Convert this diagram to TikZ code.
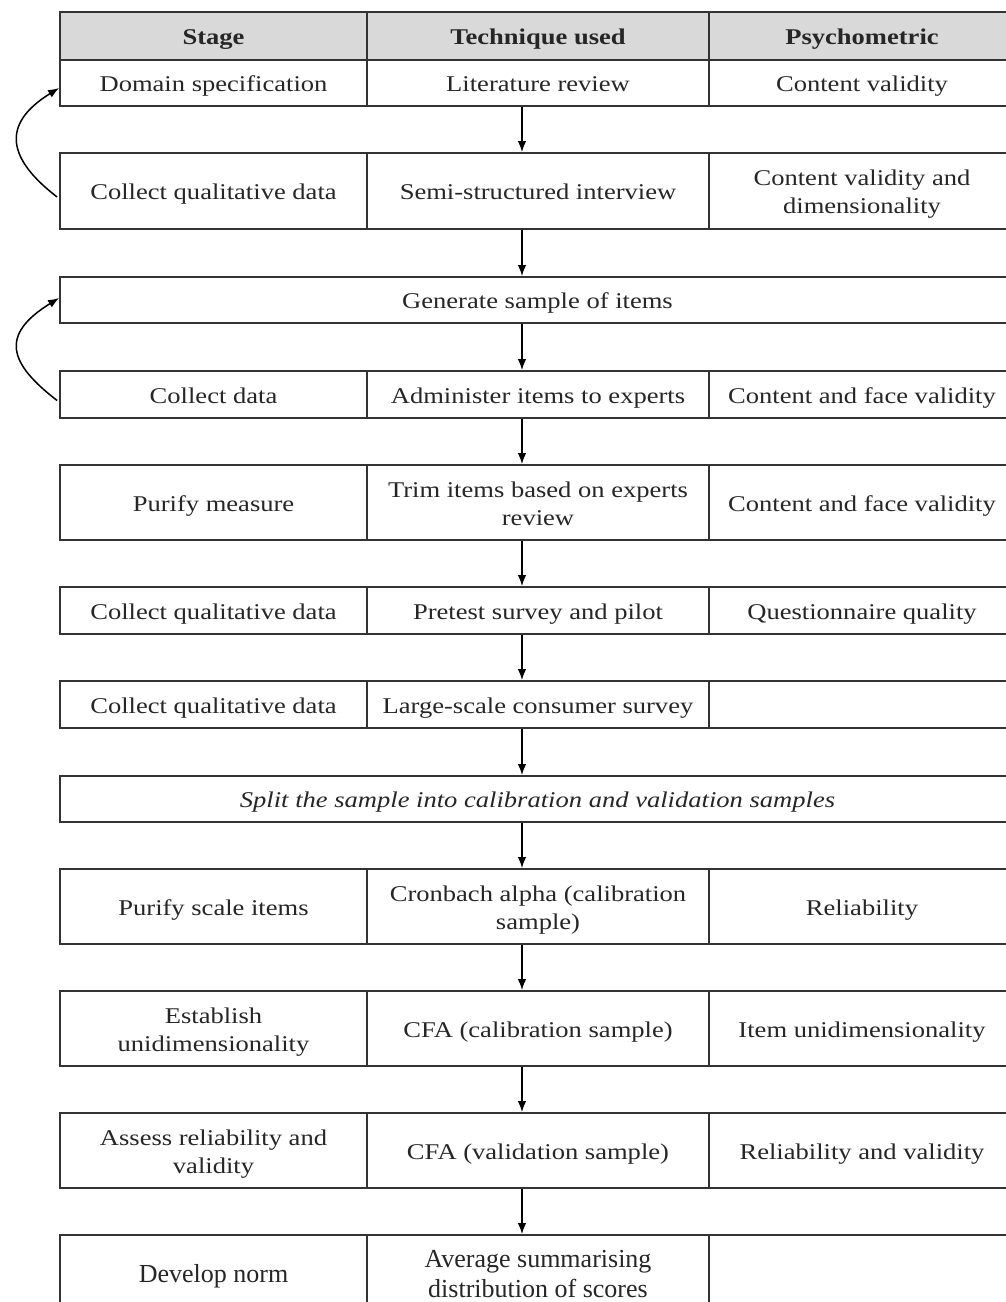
\documentclass[tikz,border=0pt]{standalone}
\usepackage{fontspec}
\setmainfont{Liberation Serif}[FakeStretch=1.18]
\newfontfamily\plainfont{Liberation Serif}
\usetikzlibrary{arrows.meta,calc}
\definecolor{lc}{HTML}{333333}
\definecolor{tc}{HTML}{262626}
\definecolor{hdr}{HTML}{D9D9D9}
\begin{document}
\begin{tikzpicture}[x=1pt,y=-1pt,
  cell/.style={draw=lc, line width=1.8pt, align=center, inner sep=0pt, text=tc,
    text height=17.5pt, text depth=0pt,
    font=\fontsize{22.5}{28}\selectfont},
  ml/.style={text height=45.5pt},
  ca/.style={cell, minimum width=307pt},
  cb/.style={cell, minimum width=342pt},
  cc/.style={cell, minimum width=306pt},
  cs/.style={cell, minimum width=955pt},
  hs/.style={minimum height=46pt},
  ht/.style={minimum height=75pt},
  hd/.style={fill=hdr, minimum height=48pt, font=\fontsize{22.5}{28}\selectfont\bfseries},
  arr/.style={draw=black, line width=1.5pt, -{Latex[length=11pt,width=8.5pt]}},
  lastrow/.style={text height=20pt, text depth=0pt, font=\fontsize{26}{30}\plainfont\selectfont},
  ml2/.style={text height=50pt}
]
\useasboundingbox (0,0) rectangle (1006,1302);
\fill[white] (0,0) rectangle (1006,1302);
\coordinate (ax) at (522,0);

% header
\node[ca,hd] (ha) at (213.5,36) {Stage};
\node[cb,hd] (hb) at (538,36) {Technique used};
\node[cc,hd] (hc) at (862,36) {Psychometric};

% row 1
\node[ca,hs] (r1a) at (213.5,83) {Domain specification};
\node[cb,hs] (r1b) at (538,83) {Literature review};
\node[cc,hs] (r1c) at (862,83) {Content validity};

% row 2
\node[ca,minimum height=76pt] (r2a) at (213.5,191) {Collect qualitative data};
\node[cb,minimum height=76pt] (r2b) at (538,191) {Semi-structured interview};
\node[cc,minimum height=76pt,ml] (r2c) at (862,191) {Content validity and\\dimensionality};

% row 3
\node[cs,hs] (r3) at (537.5,300) {Generate sample of items};

% row 4
\node[ca,minimum height=47pt] (r4a) at (213.5,394.5) {Collect data};
\node[cb,minimum height=47pt] (r4b) at (538,394.5) {Administer items to experts};
\node[cc,minimum height=47pt] (r4c) at (862,394.5) {Content and face validity};

% row 5
\node[ca,ht] (r5a) at (213.5,502.5) {Purify measure};
\node[cb,ht,ml] (r5b) at (538,502.5) {Trim items based on experts\\review};
\node[cc,ht] (r5c) at (862,502.5) {Content and face validity};

% row 6
\node[ca,minimum height=47pt] (r6a) at (213.5,610.5) {Collect qualitative data};
\node[cb,minimum height=47pt] (r6b) at (538,610.5) {Pretest survey and pilot};
\node[cc,minimum height=47pt] (r6c) at (862,610.5) {Questionnaire quality};

% row 7
\node[ca,minimum height=47pt] (r7a) at (213.5,704.5) {Collect qualitative data};
\node[cb,minimum height=47pt] (r7b) at (538,704.5) {Large-scale consumer survey};
\node[cc,minimum height=47pt] (r7c) at (862,704.5) {};

% row 8
\node[cs,hs] (r8) at (537.5,799) {\itshape Split the sample into calibration and validation samples};

% row 9
\node[ca,ht] (r9a) at (213.5,906.5) {Purify scale items};
\node[cb,ht,ml] (r9b) at (538,906.5) {Cronbach alpha (calibration\\sample)};
\node[cc,ht] (r9c) at (862,906.5) {Reliability};

% row 10
\node[ca,ht,ml] (r10a) at (213.5,1028.5) {Establish\\unidimensionality};
\node[cb,ht] (r10b) at (538,1028.5) {CFA (calibration sample)};
\node[cc,ht] (r10c) at (862,1028.5) {Item unidimensionality};

% row 11
\node[ca,ht,ml] (r11a) at (213.5,1150.5) {Assess reliability and\\validity};
\node[cb,ht] (r11b) at (538,1150.5) {CFA (validation sample)};
\node[cc,ht] (r11c) at (862,1150.5) {Reliability and validity};

% row 12
\node[ca,ht,lastrow] (r12a) at (213.5,1272.5) {Develop norm};
\node[cb,ht,lastrow,ml2] (r12b) at (538,1272.5) {Average summarising\\distribution of scores};
\node[cc,ht,lastrow] (r12c) at (862,1272.5) {};

% vertical arrows
\draw[arr] (r1b.south -| ax) -- (r2b.north -| ax);
\draw[arr] (r2b.south -| ax) -- (r3.north -| ax);
\draw[arr] (r3.south -| ax) -- (r4b.north -| ax);
\draw[arr] (r4b.south -| ax) -- (r5b.north -| ax);
\draw[arr] (r5b.south -| ax) -- (r6b.north -| ax);
\draw[arr] (r6b.south -| ax) -- (r7b.north -| ax);
\draw[arr] (r7b.south -| ax) -- (r8.north -| ax);
\draw[arr] (r8.south -| ax) -- (r9b.north -| ax);
\draw[arr] (r9b.south -| ax) -- (r10b.north -| ax);
\draw[arr] (r10b.south -| ax) -- (r11b.north -| ax);
\draw[arr] (r11b.south -| ax) -- (r12b.north -| ax);

% feedback arrows
\draw[arr] ($(r2a.west)+(-2,6)$) .. controls +(-48,-37) and +(-60,37) .. ($(r1a.west)+(0,5)$);
\draw[arr] ($(r4a.west)+(-2,6)$) .. controls +(-48,-37) and +(-60,37) .. ($(r3.west)+(0,-2)$);
\end{tikzpicture}
\end{document}
